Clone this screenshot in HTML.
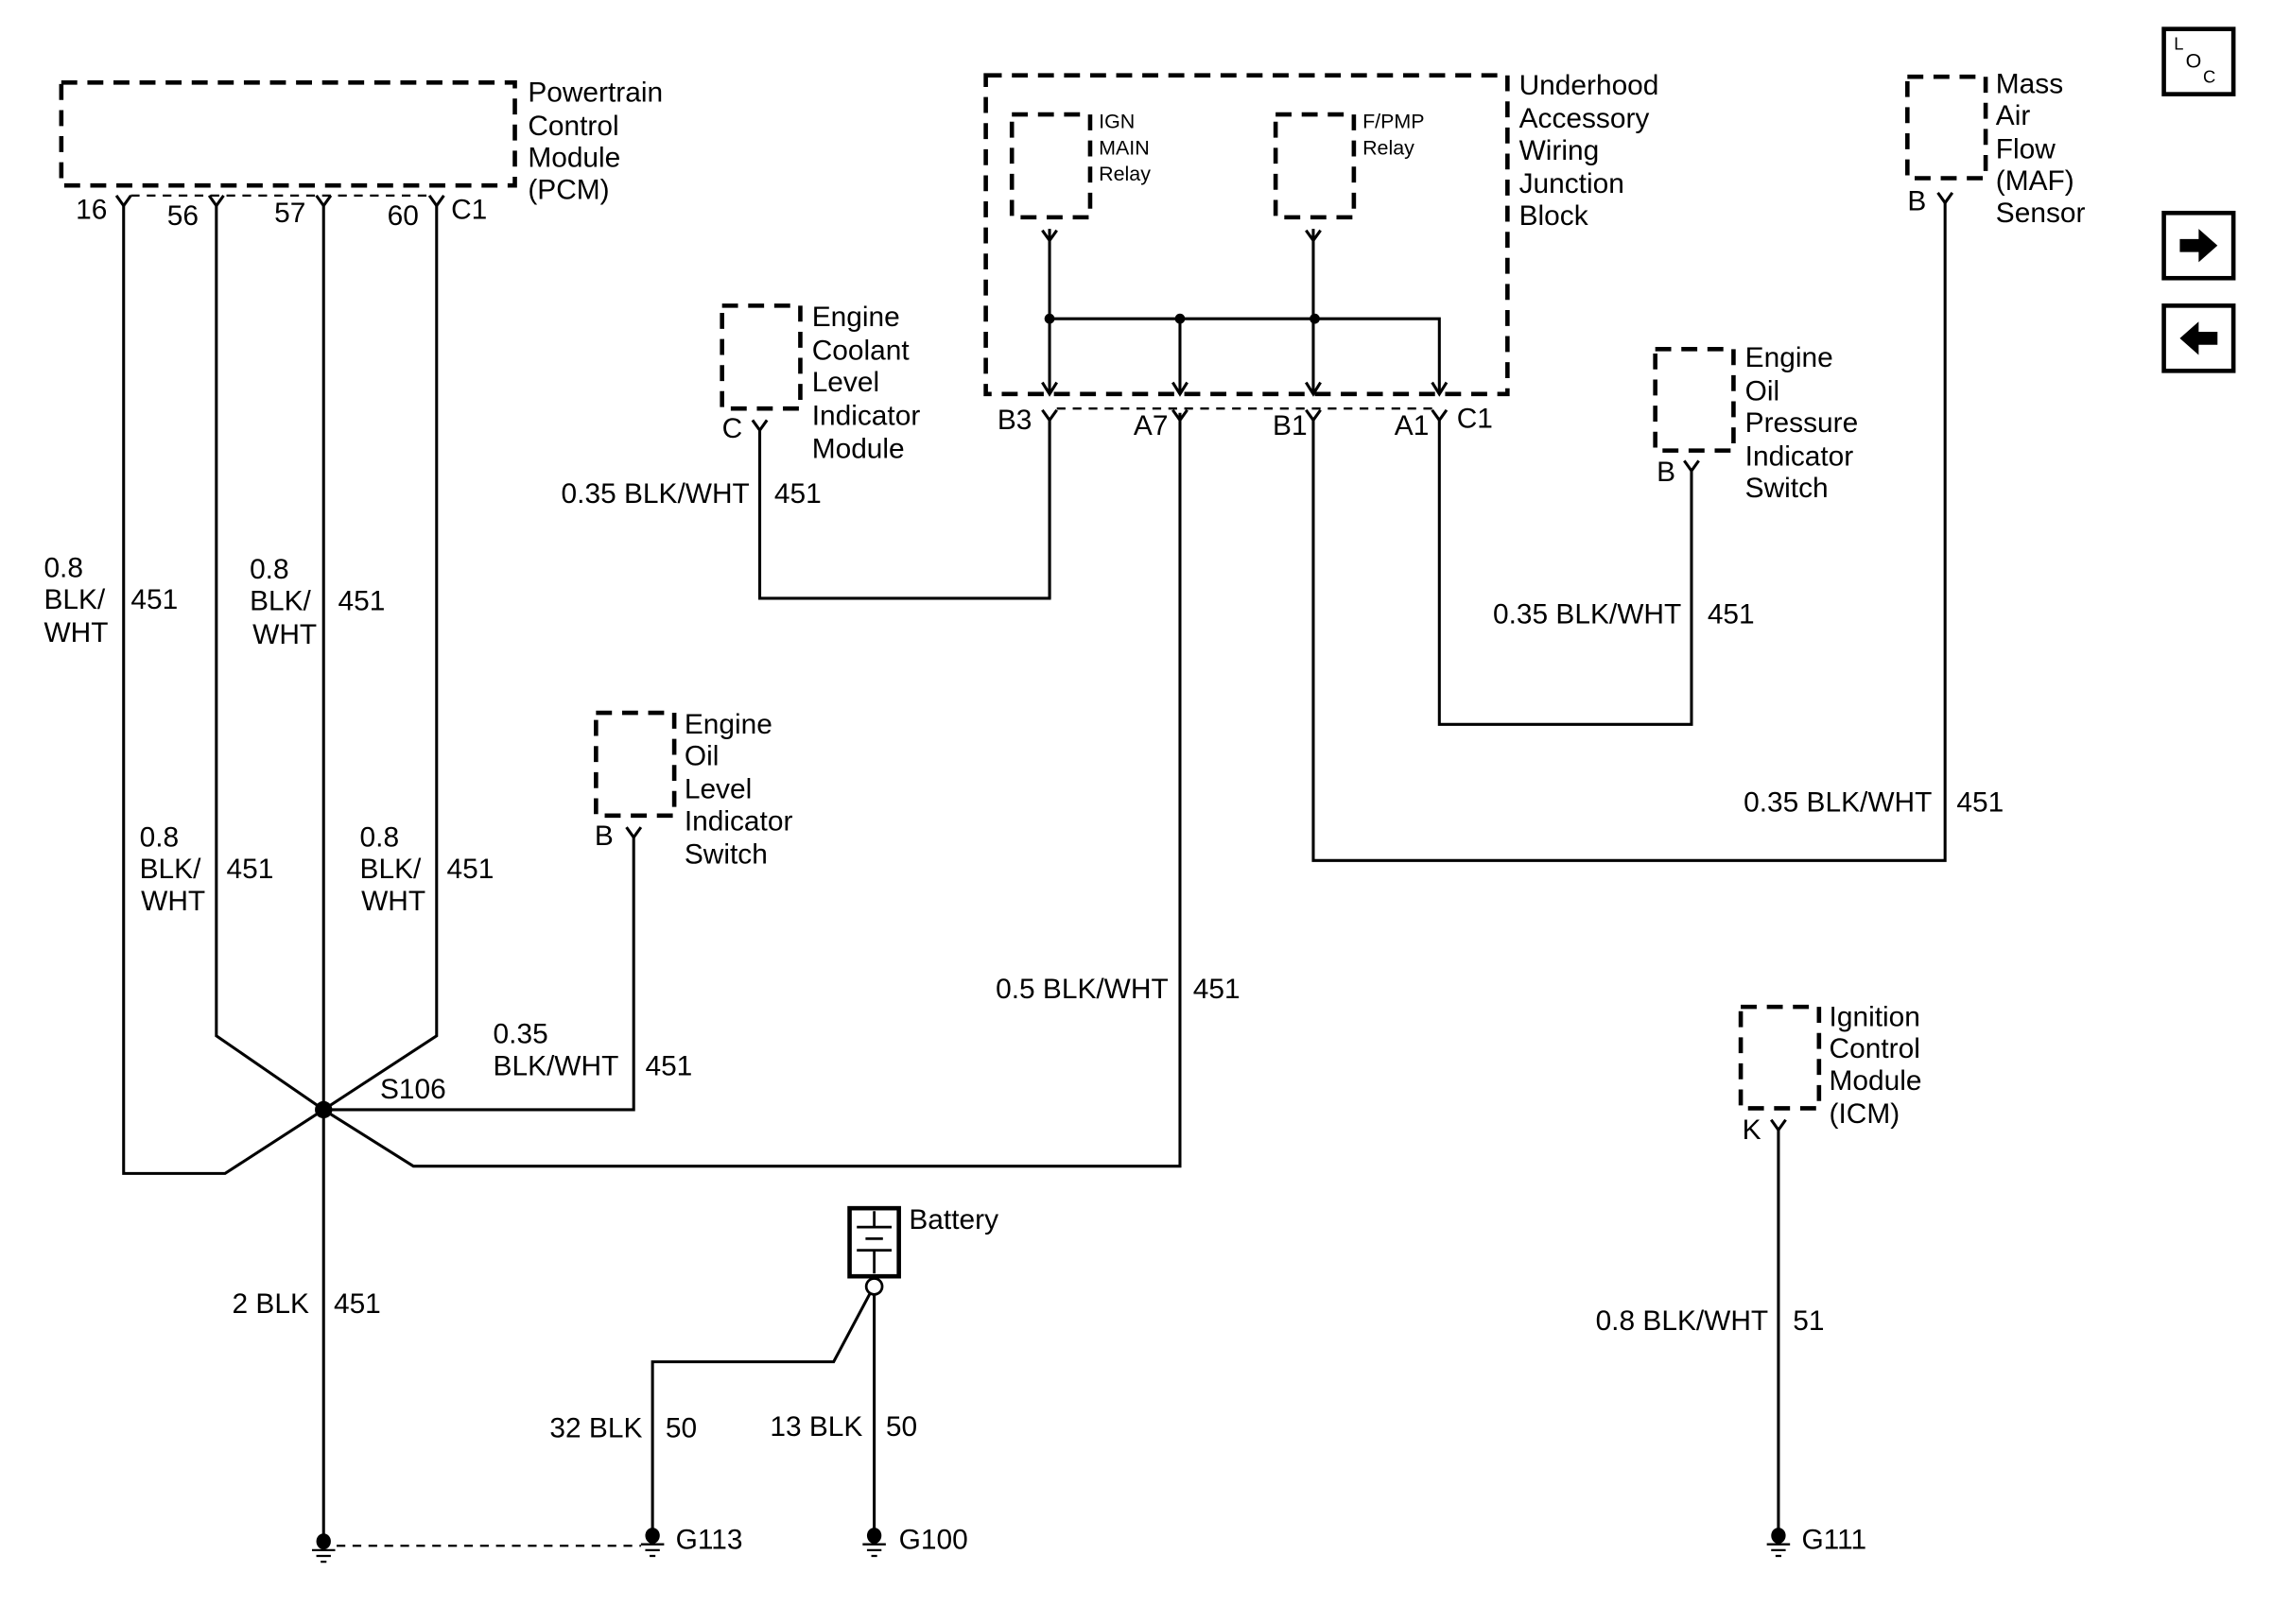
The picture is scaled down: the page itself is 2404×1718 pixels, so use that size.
<!DOCTYPE html>
<html><head><meta charset="utf-8"><style>
html,body{margin:0;padding:0;background:#fff;}
svg{display:block;}
text{font-family:"Liberation Sans",sans-serif;font-size:19.5px;fill:#000;dominant-baseline:central;}
.s{font-size:14px;}
.w{fill:none;stroke:#000;stroke-width:2;}
.d{fill:none;stroke:#000;stroke-width:3;stroke-dasharray:11,7;}
.dt{fill:none;stroke:#000;stroke-width:1.5;stroke-dasharray:6,5;}
</style></head><body>
<svg width="2404" height="1718" viewBox="0 0 1568 1121" xmlns="http://www.w3.org/2000/svg">
<defs>
<g id="y"><path d="M-5,-7 L0,0 L5,-7" fill="none" stroke="#000" stroke-width="2"/></g>
<g id="ar"><path d="M-5,-8 L0,0 L5,-8" fill="none" stroke="#000" stroke-width="2"/></g>
<g id="gnd"><ellipse cx="0" cy="-2" rx="5" ry="5.5" fill="#000"/><path d="M-8,4 H8 M-5,8 H5 M-2,12 H2" stroke="#000" stroke-width="1.5"/></g>
</defs>

<!-- PCM -->
<rect x="42" y="57" width="313" height="71" class="d"/>
<text x="364" y="64">Powertrain</text><text x="364" y="87">Control</text><text x="364" y="109">Module</text><text x="364" y="131">(PCM)</text>
<path d="M90,135 H296" class="dt"/>
<use href="#y" x="85" y="142"/><use href="#y" x="149" y="142"/><use href="#y" x="223" y="142"/><use href="#y" x="301" y="142"/>
<text x="52" y="145">16</text><text x="115" y="149">56</text><text x="189" y="147">57</text><text x="267" y="149">60</text><text x="311" y="145">C1</text>

<path d="M85,142 V810 H155 L223,766" class="w"/>
<path d="M149,142 V715 L223,766 L301,715 V142" class="w"/>
<path d="M223,142 V1062" class="w"/>
<path d="M223,766 H437 V578" class="w"/>
<path d="M223,766 L285,805 H814 V285" class="w"/>
<circle cx="223" cy="766" r="6"/>
<text x="262" y="752">S106</text>

<text x="30" y="392">0.8</text><text x="30" y="414">BLK/</text><text x="30" y="437">WHT</text><text x="90" y="414">451</text>
<text x="172" y="393">0.8</text><text x="172" y="415">BLK/</text><text x="174" y="438">WHT</text><text x="233" y="415">451</text>
<text x="96" y="578">0.8</text><text x="96" y="600">BLK/</text><text x="97" y="622">WHT</text><text x="156" y="600">451</text>
<text x="248" y="578">0.8</text><text x="248" y="600">BLK/</text><text x="249" y="622">WHT</text><text x="308" y="600">451</text>
<text x="340" y="714">0.35</text><text x="340" y="736">BLK/WHT</text><text x="445" y="736">451</text>
<text x="213" y="900" text-anchor="end">2 BLK</text><text x="230" y="900">451</text>

<!-- Engine Oil Level -->
<rect x="411" y="492" width="54" height="71" class="d"/>
<use href="#y" x="437" y="578"/>
<text x="410" y="577">B</text>
<text x="472" y="500">Engine</text><text x="472" y="522">Oil</text><text x="472" y="545">Level</text><text x="472" y="567">Indicator</text><text x="472" y="590">Switch</text>

<!-- Engine Coolant -->
<rect x="498" y="211" width="54" height="71" class="d"/>
<use href="#y" x="524" y="297"/>
<text x="498" y="296">C</text>
<text x="560" y="219">Engine</text><text x="560" y="242">Coolant</text><text x="560" y="264">Level</text><text x="560" y="287">Indicator</text><text x="560" y="310">Module</text>
<path d="M524,297 V413 H724 V290" class="w"/>
<text x="517" y="341" text-anchor="end">0.35 BLK/WHT</text><text x="534" y="341">451</text>

<!-- Underhood -->
<rect x="680" y="52" width="360" height="220" class="d"/>
<rect x="698" y="79" width="54" height="71" class="d"/>
<rect x="880" y="79" width="54" height="71" class="d"/>
<text class="s" x="758" y="84">IGN</text><text class="s" x="758" y="102">MAIN</text><text class="s" x="758" y="120">Relay</text>
<text class="s" x="940" y="84">F/PMP</text><text class="s" x="940" y="102">Relay</text>
<text x="1048" y="59">Underhood</text><text x="1048" y="82">Accessory</text><text x="1048" y="104">Wiring</text><text x="1048" y="127">Junction</text><text x="1048" y="149">Block</text>
<use href="#y" x="724" y="166"/><use href="#y" x="906" y="166"/>
<path d="M724,158 V272 M906,158 V272 M724,220 H993 V272 M814,220 V272" class="w"/>
<circle cx="724" cy="220" r="3.5"/><circle cx="814" cy="220" r="3.5"/><circle cx="907" cy="220" r="3.5"/>
<use href="#ar" x="724" y="272"/><use href="#ar" x="814" y="272"/><use href="#ar" x="906" y="272"/><use href="#ar" x="993" y="272"/>
<path d="M729,282 H988" class="dt"/>
<use href="#y" x="724" y="290"/><use href="#y" x="814" y="290"/><use href="#y" x="906" y="290"/><use href="#y" x="993" y="290"/>
<text x="688" y="290">B3</text><text x="782" y="294">A7</text><text x="878" y="294">B1</text><text x="962" y="294">A1</text><text x="1005" y="289">C1</text>
<path d="M724,290 V413" class="w"/>
<path d="M906,290 V594 H1342 V140" class="w"/>
<path d="M993,290 V500 H1167 V325" class="w"/>
<text x="806" y="683" text-anchor="end">0.5 BLK/WHT</text><text x="823" y="683">451</text>
<text x="1160" y="424" text-anchor="end">0.35 BLK/WHT</text><text x="1178" y="424">451</text>
<text x="1333" y="554" text-anchor="end">0.35 BLK/WHT</text><text x="1350" y="554">451</text>

<!-- EOP -->
<rect x="1142" y="241" width="54" height="70" class="d"/>
<use href="#y" x="1167" y="325"/>
<text x="1143" y="326">B</text>
<text x="1204" y="247">Engine</text><text x="1204" y="270">Oil</text><text x="1204" y="292">Pressure</text><text x="1204" y="315">Indicator</text><text x="1204" y="337">Switch</text>

<!-- MAF -->
<rect x="1316" y="53" width="54" height="70" class="d"/>
<use href="#y" x="1342" y="140"/>
<text x="1316" y="139">B</text>
<text x="1377" y="58">Mass</text><text x="1377" y="80">Air</text><text x="1377" y="103">Flow</text><text x="1377" y="125">(MAF)</text><text x="1377" y="147">Sensor</text>

<!-- ICM -->
<rect x="1201" y="695" width="54" height="70" class="d"/>
<use href="#y" x="1227" y="780"/>
<text x="1202" y="780">K</text>
<text x="1262" y="702">Ignition</text><text x="1262" y="724">Control</text><text x="1262" y="746">Module</text><text x="1262" y="769">(ICM)</text>
<path d="M1227,780 V1062" class="w"/>
<text x="1220" y="912" text-anchor="end">0.8 BLK/WHT</text><text x="1237" y="912">51</text>
<use href="#gnd" x="1227" y="1062"/><text x="1243" y="1063">G111</text>

<!-- Battery -->
<rect x="586" y="834" width="34" height="47" fill="none" stroke="#000" stroke-width="3"/>
<path d="M603,836 V847 M591,847 H615 M597,855 H609 M591,863 H615 M603,863 V879" stroke="#000" stroke-width="1.8"/>
<circle cx="603" cy="888" r="5.5" fill="#fff" stroke="#000" stroke-width="1.8"/>
<text x="627" y="842">Battery</text>
<path d="M603,894 V1062" class="w"/>
<path d="M600,893 L575,940 H450 V1062" class="w"/>
<text x="443" y="986" text-anchor="end">32 BLK</text><text x="459" y="986">50</text>
<text x="595" y="985" text-anchor="end">13 BLK</text><text x="611" y="985">50</text>

<use href="#gnd" x="223" y="1066"/>
<use href="#gnd" x="450" y="1062"/><text x="466" y="1063">G113</text>
<use href="#gnd" x="603" y="1062"/><text x="620" y="1063">G100</text>
<path d="M232,1067 H442" class="dt"/>

<!-- icons -->
<rect x="1493" y="20" width="48" height="45" fill="none" stroke="#000" stroke-width="3"/>
<text x="1500" y="30" style="font-size:12px">L</text><text x="1508" y="42" style="font-size:14px">O</text><text x="1520" y="53" style="font-size:12px">C</text>
<rect x="1493" y="147" width="48" height="45" fill="none" stroke="#000" stroke-width="3"/>
<path d="M1504,165 H1517 V158 L1530,169.5 L1517,181 V174 H1504 Z"/>
<rect x="1493" y="211" width="48" height="45" fill="none" stroke="#000" stroke-width="3"/>
<path d="M1530,229 H1517 V222 L1504,233.5 L1517,245 V238 H1530 Z"/>
</svg>
</body></html>
